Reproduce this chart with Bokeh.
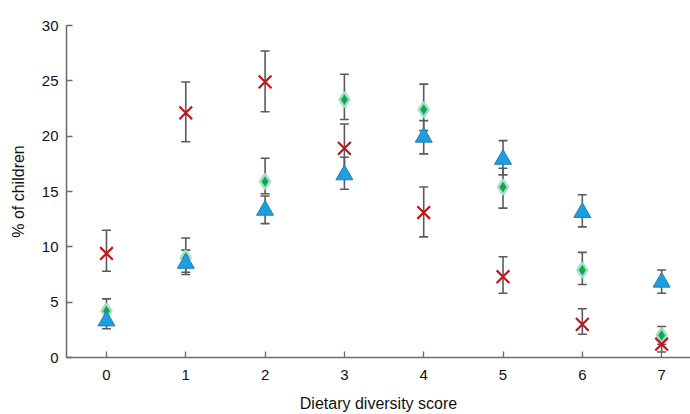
from bokeh.plotting import figure
from bokeh.models import ColumnDataSource, Whisker, TeeHead, FixedTicker, Range1d
from bokeh.embed import file_html
from bokeh.resources import INLINE

# Dietary diversity score categories
scores = [0, 1, 2, 3, 4, 5, 6, 7]

# Series A (red crosses): % of children with 95% CI bounds
red_pct = [9.4, 22.1, 24.9, 18.9, 13.1, 7.3, 3.0, 1.2]
red_hi = [11.5, 24.9, 27.7, 21.1, 15.4, 9.1, 4.4, 2.1]
red_lo = [7.8, 19.5, 22.2, 16.7, 10.9, 5.8, 2.1, 0.5]

# Series B (green diamonds)
green_pct = [4.2, 9.0, 15.9, 23.3, 22.4, 15.4, 7.9, 2.0]
green_hi = [5.3, 10.8, 18.0, 25.6, 24.7, 17.1, 9.5, 2.8]
green_lo = [3.2, 7.7, 14.8, 21.5, 20.5, 13.5, 6.6, 1.2]

# Series C (blue triangles)
blue_pct = [3.3, 8.5, 13.3, 16.5, 19.9, 17.9, 13.1, 6.8]
blue_hi = [4.3, 9.7, 14.6, 18.1, 21.4, 19.6, 14.7, 7.9]
blue_lo = [2.6, 7.5, 12.1, 15.2, 18.4, 16.5, 11.8, 5.8]

y_ticks = [0, 5, 10, 15, 20, 25, 30]

FONT = "Liberation Sans"
AXIS_GREY = "#6b6b6b"
BAR_GREY = "#5a5a5a"

p = figure(
    width=690, height=414,
    x_range=Range1d(-0.504, 7.364), y_range=Range1d(0, 30),
    output_backend="svg", toolbar_location=None,
    min_border_left=66, min_border_right=0, min_border_top=25, min_border_bottom=56,
)
p.outline_line_color = None
p.xgrid.visible = False
p.ygrid.visible = False
p.background_fill_color = "white"
p.border_fill_color = "white"

red = ColumnDataSource(dict(x=scores, y=red_pct, hi=red_hi, lo=red_lo))
green = ColumnDataSource(dict(x=scores, y=green_pct, hi=green_hi, lo=green_lo))
blue = ColumnDataSource(dict(x=scores, y=blue_pct, hi=blue_hi, lo=blue_lo))

# Confidence-interval whiskers
for src in (red, green, blue):
    w = Whisker(
        source=src, base="x", upper="hi", lower="lo", dimension="height",
        line_color=BAR_GREY, line_width=1.6,
        upper_head=TeeHead(size=9, line_color=BAR_GREY, line_width=1.6),
        lower_head=TeeHead(size=9, line_color=BAR_GREY, line_width=1.6),
    )
    p.add_layout(w)

# Markers
p.scatter("x", "y", source=green, marker="diamond", size=15,
          fill_color="#10a84f", line_color="#a6dccb", line_width=2.5)
p.scatter("x", "y", source=blue, marker="triangle", size=17,
          fill_color="#1aa0e0", line_color="#2b7cb5", line_width=1)
p.scatter("x", "y", source=red, marker="x", size=18,
          line_color="#c0161e", line_width=2.2)

# Axes
p.xaxis.ticker = FixedTicker(ticks=scores)
p.yaxis.ticker = FixedTicker(ticks=y_ticks)
for ax in (p.xaxis[0], p.yaxis[0]):
    ax.axis_line_color = AXIS_GREY
    ax.axis_line_width = 1.5
    ax.major_tick_line_color = AXIS_GREY
    ax.major_tick_line_width = 1.3
    ax.major_tick_in = 6
    ax.major_tick_out = 0
    ax.minor_tick_line_color = None
    ax.major_label_text_font = FONT
    ax.major_label_text_font_size = "15px"
    ax.major_label_text_color = "#111111"
    ax.axis_label_text_font = FONT
    ax.axis_label_text_font_size = "16px"
    ax.axis_label_text_font_style = "normal"
    ax.axis_label_text_color = "#111111"

p.xaxis.axis_label = "Dietary diversity score"
p.yaxis.axis_label = "% of children"
p.xaxis.major_label_standoff = 12
p.xaxis.axis_label_standoff = 12
p.yaxis.major_label_standoff = 8
p.yaxis.axis_label_standoff = 12

open("out.html", "w").write(file_html(p, INLINE))
